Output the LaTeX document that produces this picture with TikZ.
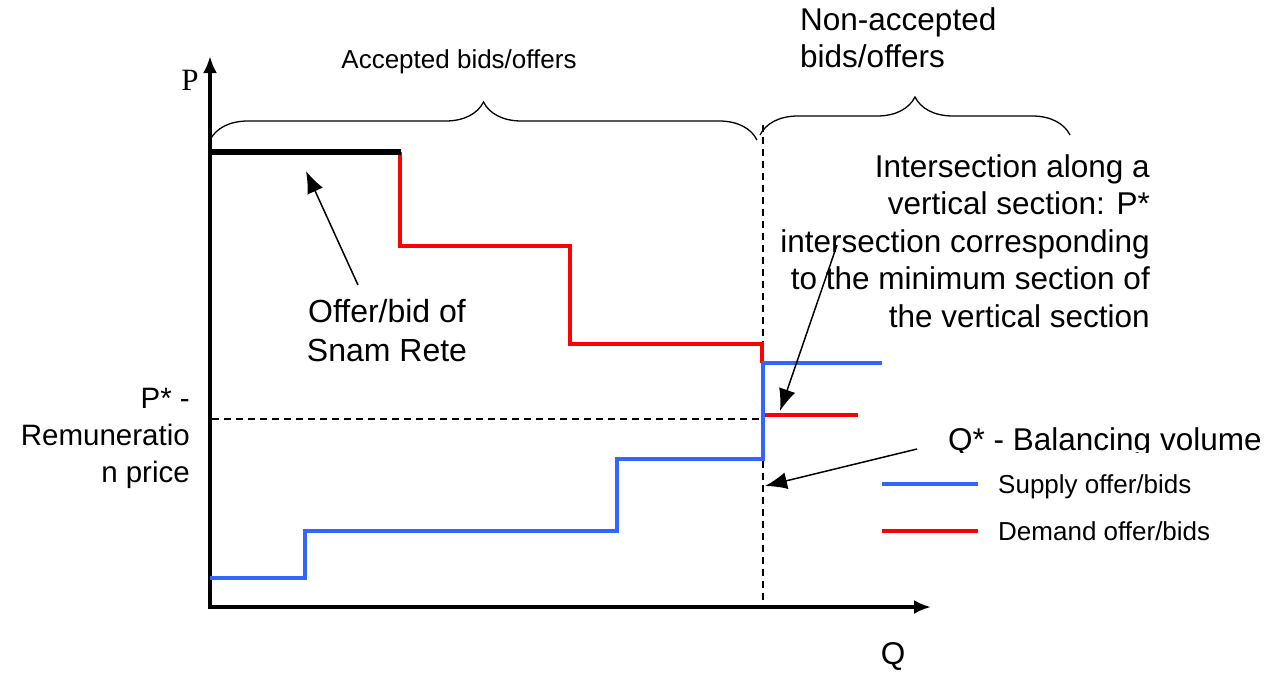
\documentclass[tikz,border=0pt]{standalone}
\usepackage{fontspec}
\setmainfont{Liberation Sans}
\newfontfamily\axisserif{Liberation Serif}
\usepackage{xcolor}
\usepackage{tikz}
\usetikzlibrary{arrows.meta,decorations.pathreplacing}
\definecolor{supplyblue}{RGB}{51,102,255}
\definecolor{demandred}{RGB}{255,0,0}

\begin{document}
\begin{tikzpicture}[x=1pt,y=-1pt,
  big/.style={inner sep=0pt,font=\fontsize{31.5}{37.5}\selectfont},
  small/.style={inner sep=0pt,font=\fontsize{26}{31}\selectfont},
  axis/.style={line width=4pt,-{Latex[length=17pt,width=14pt]}},
  supply/.style={draw=supplyblue,line width=4pt},
  demand/.style={draw=demandred,line width=3.5pt},
  pointer/.style={line width=1.5pt,-{Latex[length=22pt,width=17pt]}},
  guide/.style={line width=1.2pt,dash pattern=on 7pt off 5pt},
  bracket/.style={line width=1.3pt,decorate,decoration={brace,amplitude=38pt}}]
        \useasboundingbox (0,0) rectangle (1285,673);
        % Draw the axes
        \coordinate (origin) at (210,607);
        \draw[axis] (208,607) -- (931,607);
        \draw[axis] (origin) -- (210,56);
        \node[big,font={\axisserif\fontsize{31}{36}\selectfont}] (plbl) at (190,80) {P};
        \node[big] (qlbl) at (893,656) {Q};
        % Draw the guide lines at P* and Q*
        \draw[guide] (763,125) -- (763,607);
        \draw[guide] (212,419) -- (763,419);
        % Draw the braces
        \draw[bracket] (210,140) -- (757,140);
        \draw[bracket] (760,135) -- (1070,135);
        \node[small] (acc) at (459,62) {Accepted bids/offers};
        \node[big,anchor=north west,align=left] (nonacc) at (800,7) {Non-accepted\\bids/offers};
        % Draw the curves
        \draw[demand] (400,152) -- (400,246) -- (570,246) -- (570,344) -- (762,344) -- (762,363);
        \draw[demand] (765,415) -- (858,415);
        \draw[supply] (210,578) -- (305,578) -- (305,531) -- (617,531) -- (617,459) -- (763,459) -- (763,363) -- (882,363);
        \draw[line width=6pt] (210,152) -- (401,152);
        % Draw the labels
        \node[big,anchor=north,align=center,font=\fontsize{32}{39}\selectfont] (snam) at (387,299) {Offer/bid of\\Snam Rete};
        \node[big,anchor=north east,align=right,font=\fontsize{29.5}{37}\selectfont] (pstar) at (190,388) {P* -\\Remuneratio\\n price};
        \node[big,anchor=north east,align=right] (cross) at (1150,154) {Intersection along a\\vertical section: P*\\intersection corresponding\\to the minimum section of\\the vertical section};
        \begin{scope}
          \clip (930,410) rectangle (1285,452);
          \node[big,anchor=base west] (qstar) at (948,450) {Q* - Balancing volume};
        \end{scope}
        % Draw arrows
        \coordinate (snamtail) at (358,285);
        \coordinate (snamtip) at (306,171);
        \coordinate (crosstail) at (837,245);
        \coordinate (crosstip) at (780,411);
        \coordinate (qstartail) at (917,449);
        \coordinate (qstartip) at (765,486);
        \draw[pointer] (snamtail) -- (snamtip);
        \draw[pointer] (crosstail) -- (crosstip);
        \draw[pointer] (qstartail) -- (qstartip);
        % Draw the legend
        \draw[supply] (882,484) -- (978,484);
        \draw[demand] (882,531) -- (978,531);
        \node[small,anchor=base west] (supplylbl) at (998,493) {Supply offer/bids};
        \node[small,anchor=base west] (demandlbl) at (998,540) {Demand offer/bids};
\end{tikzpicture}
\end{document}
